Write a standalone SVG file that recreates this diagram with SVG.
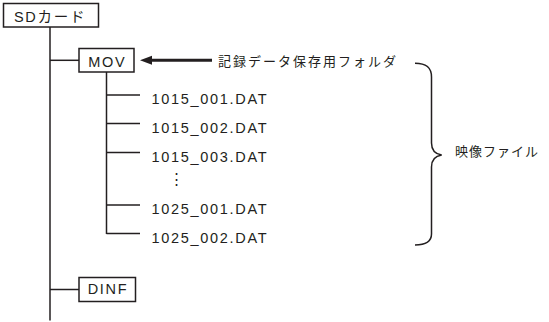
<svg xmlns="http://www.w3.org/2000/svg" width="549" height="322" viewBox="0 0 549 322">
<style>
.box{fill:#fff;stroke:#231f20;stroke-width:1.5}
.ln{fill:none;stroke:#231f20;stroke-width:1.5}
.t{font-family:"Liberation Sans","Noto Sans CJK JP",sans-serif;font-size:14.5px;letter-spacing:1.7px;fill:#231f20}
.j{font-family:"Liberation Sans","Noto Sans CJK JP",sans-serif;font-size:13px;fill:#231f20}
</style>
<rect width="549" height="322" fill="#fff"/>
<g id="connectors">
<line class="ln" x1="50" y1="27" x2="50" y2="320.5"/>
<line class="ln" x1="50" y1="60.3" x2="79" y2="60.3"/>
<line class="ln" x1="50" y1="289.5" x2="79" y2="289.5"/>
<line class="ln" x1="106.5" y1="72" x2="106.5" y2="234"/>
<line class="ln" x1="106" y1="95" x2="140" y2="95"/>
<line class="ln" x1="106" y1="123.5" x2="140" y2="123.5"/>
<line class="ln" x1="106" y1="152.5" x2="140" y2="152.5"/>
<line class="ln" x1="106" y1="205" x2="140" y2="205"/>
<path class="ln" d="M106.5,233.5 L140,233.5"/>
<line x1="212" y1="60.3" x2="150" y2="60.3" stroke="#231f20" stroke-width="3"/>
<polygon points="140,60.3 152,55.8 152,64.8" fill="#231f20"/>
<path class="ln" d="M415,63.3 C426,63.3 431.5,67 431.5,77 L431.5,143 C431.5,150 435,154 441.7,155 C435,156 431.5,160 431.5,167 L431.5,234 C431.5,242 426,245 415,245"/>
</g>
<g id="sdcard">
<rect class="box" x="3.5" y="3.5" width="95" height="23.5"/>
<text class="t" x="14" y="21.5" letter-spacing="2">SDカード</text>
</g>
<g id="mov">
<rect class="box" x="79" y="48.5" width="55" height="23.5"/>
<text class="t" x="88.3" y="66.7">MOV</text>
</g>
<g id="label-folder">
<text class="j" x="218" y="66" letter-spacing="2">記録データ保存用フォルダ</text>
</g>
<g id="files">
<text class="t" x="151.5" y="104.3">1015_001.DAT</text>
<text class="t" x="151.5" y="132.8">1015_002.DAT</text>
<text class="t" x="151.5" y="161.8">1015_003.DAT</text>
<text class="t" x="177.7" y="184" text-anchor="middle" letter-spacing="0">⋮</text>
<text class="t" x="151.5" y="214.3">1025_001.DAT</text>
<text class="t" x="151.5" y="242.8">1025_002.DAT</text>
</g>
<g id="label-video">
<text class="j" x="455" y="155.5" letter-spacing="1">映像ファイル</text>
</g>
<g id="dinf">
<rect class="box" x="79" y="277.5" width="56.5" height="24"/>
<text class="t" x="87.7" y="294" letter-spacing="2.3">DINF</text>
</g>
</svg>
